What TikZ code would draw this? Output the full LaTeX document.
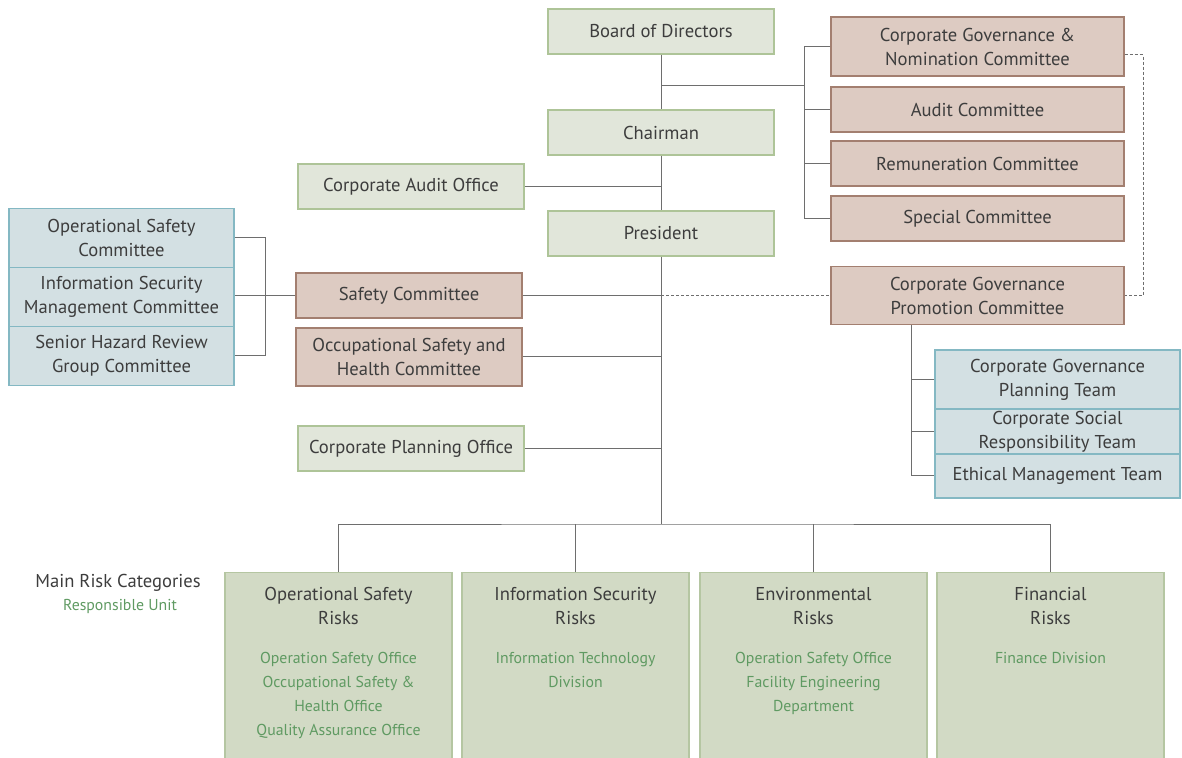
\documentclass[tikz,border=0pt]{standalone}
\usepackage{fontspec}
\setmainfont{PT Sans}
\usetikzlibrary{positioning}
\definecolor{boxgreen}{HTML}{E1E6DA}
\definecolor{linegreen}{HTML}{AEC498}
\definecolor{boxbrown}{HTML}{DDCBC2}
\definecolor{linebrown}{HTML}{A37F70}
\definecolor{boxblue}{HTML}{D3E0E3}
\definecolor{lineblue}{HTML}{84B8C3}
\definecolor{riskfill}{HTML}{D2DAC5}
\definecolor{riskline}{HTML}{B5C6A2}
\definecolor{unitgreen}{HTML}{5F9A62}
\definecolor{textgray}{HTML}{3D3D3D}
\definecolor{linkgray}{HTML}{6E6E6E}

\begin{document}
\begin{tikzpicture}
   [x=0.5pt,y=-0.5pt,
    every node/.style={inner sep=0pt,align=center,text=textgray,font=\fontsize{9.3}{12}\selectfont},
    office/.style={draw=linegreen,fill=boxgreen,line width=0.7pt,minimum width=113pt,minimum height=22.5pt},
    cmte/.style={draw=linebrown,fill=boxbrown,line width=0.7pt,minimum width=146.5pt,minimum height=22.5pt},
    team/.style={draw=lineblue,fill=boxblue,line width=0.7pt,minimum height=29.5pt},
    risk/.style={draw=riskline,fill=riskfill,line width=0.7pt,minimum width=113.5pt,minimum height=100pt,anchor=north},
    unit/.style={text=unitgreen,font=\fontsize{7.9}{12}\selectfont,anchor=north},
    link/.style={draw=linkgray,line width=0.5pt}]

\useasboundingbox (0,0) rectangle (1182,758);

%%%%%%%%%%%%%%%%%%%%%%%%%%%%%%%%%%%%%%%%%%%%%%%%%%%%%%%%%%%%%%%
% Main line: board, chairman, president
%%%%%%%%%%%%%%%%%%%%%%%%%%%%%%%%%%%%%%%%%%%%%%%%%%%%%%%%%%%%%%%

\node[office] (board) at (661,31.5) {Board of Directors};
\node[office] (chair) at (661,132.5) {Chairman};
\node[office] (pres) at (661,233.5) {President};

\node[office] (audit) at (411,186.5) {Corporate Audit Office};
\node[cmte,minimum width=113pt] (safety) at (409,295.5) {Safety Committee};
\node[cmte,minimum width=113pt,minimum height=29pt] (osh) at (409,357) {Occupational Safety and\\Health Committee};
\node[office] (plan) at (411,448.5) {Corporate Planning Office};

%%%%%%%%%%%%%%%%%%%%%%%%%%%%%%%%%%%%%%%%%%%%%%%%%%%%%%%%%%%%%%%
% Board committees
%%%%%%%%%%%%%%%%%%%%%%%%%%%%%%%%%%%%%%%%%%%%%%%%%%%%%%%%%%%%%%%

\node[cmte,minimum height=29.5pt] (nom) at (977.5,46.5) {Corporate Governance \&\\Nomination Committee};
\node[cmte] (auditc) at (977.5,109.5) {Audit Committee};
\node[cmte] (remun) at (977.5,163.5) {Remuneration Committee};
\node[cmte] (special) at (977.5,218.5) {Special Committee};
\node[cmte,minimum height=29pt] (promo) at (977.5,295.5) {Corporate Governance\\Promotion Committee};

% Teams under the promotion committee
\node[team,minimum width=122.5pt] (cgplan) at (1057.5,379.5) {Corporate Governance\\Planning Team};
\node[team,minimum width=122.5pt,minimum height=22.5pt,below=-0.7pt of cgplan] (csr) {Corporate Social\\Responsibility Team};
\node[team,minimum width=122.5pt,minimum height=22pt,below=-0.7pt of csr] (ethic) {Ethical Management Team};

%%%%%%%%%%%%%%%%%%%%%%%%%%%%%%%%%%%%%%%%%%%%%%%%%%%%%%%%%%%%%%%
% Committees under the safety committee
%%%%%%%%%%%%%%%%%%%%%%%%%%%%%%%%%%%%%%%%%%%%%%%%%%%%%%%%%%%%%%%

\node[team,minimum width=112.5pt] (opsafe) at (121.5,238) {Operational Safety\\Committee};
\node[team,minimum width=112.5pt,below=-0.7pt of opsafe] (infosec) {Information Security\\Management Committee};
\node[team,minimum width=112.5pt,below=-0.7pt of infosec] (hazard) {Senior Hazard Review\\Group Committee};

%%%%%%%%%%%%%%%%%%%%%%%%%%%%%%%%%%%%%%%%%%%%%%%%%%%%%%%%%%%%%%%
% Risk categories
%%%%%%%%%%%%%%%%%%%%%%%%%%%%%%%%%%%%%%%%%%%%%%%%%%%%%%%%%%%%%%%

\node[] (cats) at (118,583) {Main Risk Categories};
\node[text=unitgreen,font=\fontsize{7.9}{12}\selectfont] (units) at (120,606) {Responsible Unit};

\node[risk] (opsrisk) at (338.5,572) {};
\node[risk] (infrisk) at (575.5,572) {};
\node[risk] (envrisk) at (813.5,572) {};
\node[risk] (finrisk) at (1050.5,572) {};

\node[below=7.5pt of opsrisk.north] (opsrisk_t) {Operational Safety\\Risks};
\node[below=7.5pt of infrisk.north] (infrisk_t) {Information Security\\Risks};
\node[below=7.5pt of envrisk.north] (envrisk_t) {Environmental\\Risks};
\node[below=7.5pt of finrisk.north] (finrisk_t) {Financial\\Risks};

\node[unit] (opsrisk_u) at (338.5,652) {Operation Safety Office\\Occupational Safety \&\\Health Office\\Quality Assurance Office};
\node[unit] (infrisk_u) at (575.5,652) {Information Technology\\Division};
\node[unit] (envrisk_u) at (813.5,652) {Operation Safety Office\\Facility Engineering\\Department};
\node[unit] (finrisk_u) at (1050.5,652) {Finance Division};

%%%%%%%%%%%%%%%%%%%%%%%%%%%%%%%%%%%%%%%%%%%%%%%%%%%%%%%%%%%%%%%
% Connecting nodes
%%%%%%%%%%%%%%%%%%%%%%%%%%%%%%%%%%%%%%%%%%%%%%%%%%%%%%%%%%%%%%%

\coordinate (cmtebus) at (804,86);
\coordinate (teambus) at (265,296);
\coordinate (promobus) at (911,400);
\coordinate (riskbus) at (661,524);
\coordinate (govloop) at (1143,55);

\draw[link] (board) -- (chair);
\draw[link] (chair) -- (pres);
\draw[link] (pres.south) -- (riskbus);

\draw[link] (board.south |- cmtebus) -- (cmtebus);
\draw[link] (nom.west) -| (cmtebus |- special.west) -- (special.west);
\draw[link] (auditc.west) -- (auditc.west -| cmtebus);
\draw[link] (remun.west) -- (remun.west -| cmtebus);

\draw[link] (audit.east) -- (audit.east -| pres.south);
\draw[link] (safety.east) -- (safety.east -| pres.south);
\draw[link] (osh.east) -- (osh.east -| pres.south);
\draw[link] (plan.east) -- (plan.east -| pres.south);

\draw[link,dash pattern=on 1.5pt off 1pt] (promo.west -| pres.south) -- (promo.west);
\draw[link,dash pattern=on 1.5pt off 1pt] ([yshift=-4.25pt]nom.east) -- (govloop) |- (promo.east);

\draw[link] (opsafe.east) -| (teambus |- hazard.east) -- (hazard.east);
\draw[link] (safety.west) -- (safety.west -| infosec.east);

\draw[link] (promo.south -| promobus) |- (ethic.west);
\draw[link] (cgplan.west) -- (cgplan.west -| promobus);
\draw[link] (csr.west) -- (csr.west -| promobus);

\draw[link] (opsrisk.north) |- (riskbus) -| (finrisk.north);
\draw[link] (infrisk.north) -- (infrisk.north |- riskbus);
\draw[link] (envrisk.north) -- (envrisk.north |- riskbus);

\end{tikzpicture}
\end{document}
